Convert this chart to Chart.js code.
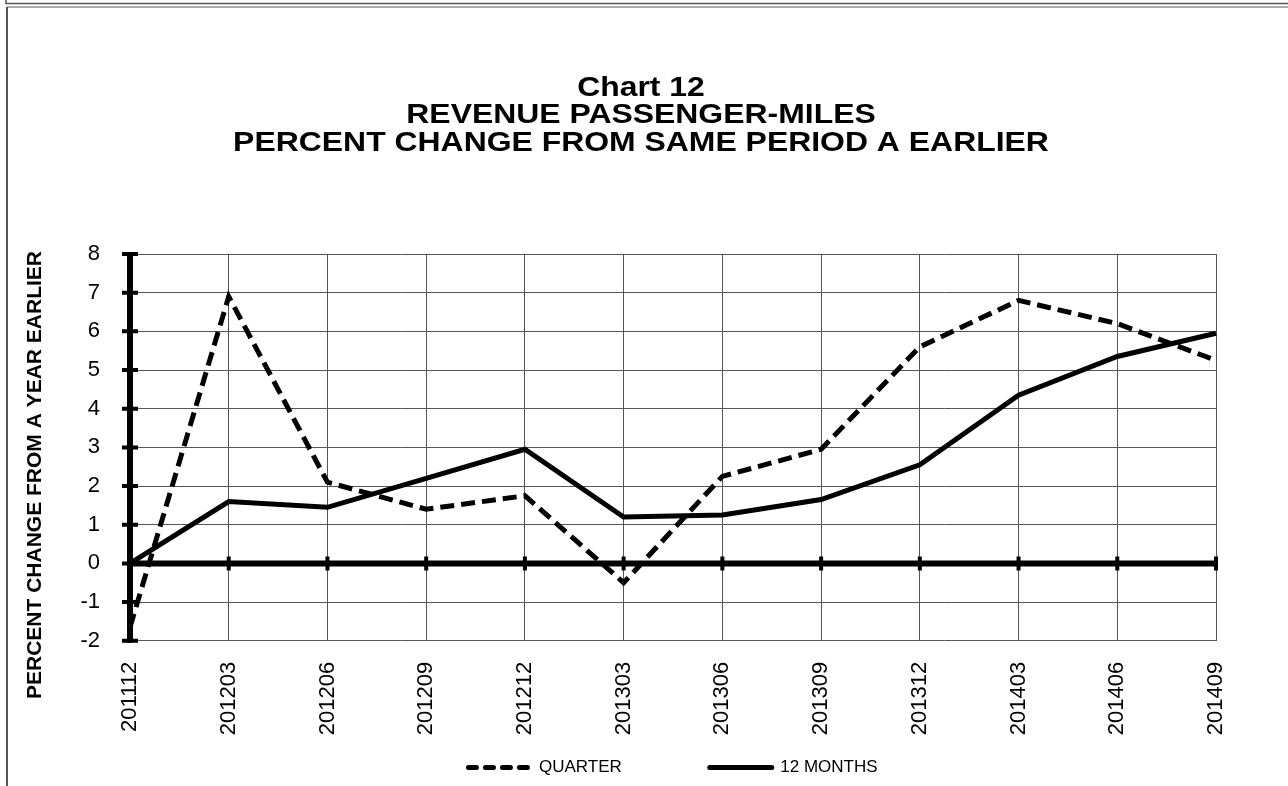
<!DOCTYPE html>
<html>
<head>
<meta charset="utf-8">
<script src="https://cdn.jsdelivr.net/npm/chart.js@4.4.0/dist/chart.umd.min.js"></script>
<style>
  html, body { margin: 0; padding: 0; background: #fff; }
  #wrap { width: 1288px; height: 786px; }
</style>
</head>
<body>
<div id="wrap"><canvas id="chart12"></canvas></div>
<script>
// quarter ending (YYYYMM)
const periods = ['201112', '201203', '201206', '201209', '201212', '201303',
                 '201306', '201309', '201312', '201403', '201406', '201409'];
// percent change from same period a year earlier
const quarterChange = [-1.65, 6.9, 2.1, 1.4, 1.75, -0.5, 2.25, 2.95, 5.6, 6.8, 6.2, 5.25];
const twelveMonthChange = [0.0, 1.6, 1.45, 2.2, 2.95, 1.2, 1.25, 1.65, 2.55, 4.35, 5.35, 5.95];
const yMin = -2, yMax = 8, yStep = 1;

const titleLines = ['Chart 12', 'REVENUE PASSENGER-MILES', 'PERCENT CHANGE FROM SAME PERIOD A EARLIER'];
const yAxisTitle = 'PERCENT CHANGE FROM A YEAR EARLIER';
const FONT = "'Liberation Sans', Arial, Helvetica, sans-serif";

// page frame (the sheet border of the original)
const sheetFrame = {
    id: 'sheetFrame',
    beforeDraw(chart) {
        const ctx = chart.ctx;
        ctx.save();
        ctx.fillStyle = '#fff';
        ctx.fillRect(0, 0, chart.width, chart.height);
        ctx.strokeStyle = '#555';
        ctx.lineWidth = 1.5;
        ctx.beginPath();
        ctx.moveTo(6, 0); ctx.lineTo(6, 3.5); ctx.lineTo(chart.width, 3.5);
        ctx.stroke();
        ctx.strokeStyle = '#aaa';
        ctx.lineWidth = 2;
        ctx.beginPath();
        ctx.moveTo(7, 7); ctx.lineTo(chart.width, 7);
        ctx.stroke();
        ctx.strokeStyle = '#555';
        ctx.beginPath();
        ctx.moveTo(7, 7); ctx.lineTo(7, chart.height);
        ctx.stroke();
        ctx.restore();
    }
};

// the original title is a wide bold face: draw it a little stretched
const wideTitle = {
    id: 'wideTitle',
    afterDraw(chart) {
        const ctx = chart.ctx;
        ctx.save();
        ctx.fillStyle = '#000';
        ctx.font = 'bold 28px ' + FONT;
        ctx.textAlign = 'center';
        ctx.textBaseline = 'middle';
        ctx.translate(chart.width / 2 - 3, 0);
        ctx.scale(1.14, 1);
        titleLines.forEach((line, i) => ctx.fillText(line, 0, 88 + i * 27.6));
        ctx.restore();
    }
};

// heavy value axis + zero line with crossing ticks, and the y title
const heavyAxes = {
    id: 'heavyAxes',
    beforeDatasetsDraw(chart) {
        const { ctx, chartArea: a, scales: { x, y } } = chart;
        const y0 = y.getPixelForValue(0);
        ctx.save();
        ctx.strokeStyle = '#000';
        ctx.lineWidth = 6;
        ctx.beginPath();
        ctx.moveTo(a.left, a.top - 2); ctx.lineTo(a.left, a.bottom + 2);
        ctx.moveTo(a.left, y0); ctx.lineTo(a.right, y0);
        ctx.stroke();
        ctx.lineWidth = 4;
        ctx.beginPath();
        y.ticks.forEach(t => {
            const py = y.getPixelForValue(t.value);
            ctx.moveTo(a.left - 8, py); ctx.lineTo(a.left + 8, py);
        });
        x.ticks.forEach((t, i) => {
            const px = x.getPixelForTick(i);
            ctx.moveTo(px, y0 - 7); ctx.lineTo(px, y0 + 7);
        });
        ctx.stroke();

        ctx.translate(35.5, 475);
        ctx.rotate(-Math.PI / 2);
        ctx.fillStyle = '#000';
        ctx.font = 'bold 21px ' + FONT;
        ctx.textAlign = 'center';
        ctx.textBaseline = 'middle';
        ctx.fillText(yAxisTitle, 0, 0);
        ctx.restore();
    }
};

const ctx = document.getElementById('chart12');
new Chart(ctx, {
    type: 'line',
    data: {
        labels: periods,
        datasets: [{
            label: 'QUARTER',
            data: quarterChange,
            borderColor: '#000',
            backgroundColor: '#000',
            borderWidth: 5,
            borderDash: [14, 7],
            pointRadius: 0,
            tension: 0,
            fill: false
        }, {
            label: '12 MONTHS',
            data: twelveMonthChange,
            borderColor: '#000',
            backgroundColor: '#000',
            borderWidth: 5,
            pointRadius: 0,
            tension: 0,
            fill: false
        }]
    },
    options: {
        responsive: true,
        maintainAspectRatio: false,
        animation: false,
        layout: { padding: { top: 254, left: 0, right: 0, bottom: 0 } },
        plugins: {
            title: { display: false },
            legend: {
                position: 'bottom',
                fullSize: false,
                labels: {
                    usePointStyle: true,
                    pointStyle: 'line',
                    pointStyleWidth: 62,
                    color: '#000',
                    font: { family: FONT, size: 17 },
                    padding: 8.75,
                    generateLabels(chart) {
                        const items = Chart.defaults.plugins.legend.labels.generateLabels(chart);
                        items[0].lineDash = [8, 9];
                        items[0].lineCap = 'round';
                        items[1].lineCap = 'round';
                        // empty slot keeps the two entries apart as in the original
                        items.splice(1, 0, {
                            text: '', fillStyle: 'rgba(0,0,0,0)', strokeStyle: 'rgba(0,0,0,0)',
                            lineWidth: 0, pointStyle: 'line', hidden: false
                        });
                        return items;
                    }
                }
            },
            tooltip: { enabled: false }
        },
        scales: {
            x: {
                offset: false,
                border: { display: false },
                grid: { color: '#555', lineWidth: 1, drawTicks: false },
                ticks: {
                    color: '#000',
                    font: { family: FONT, size: 22 },
                    minRotation: 90,
                    maxRotation: 90,
                    padding: 21,
                    autoSkip: false
                },
                afterFit(scale) { scale.height = 109.5; }
            },
            y: {
                min: yMin,
                max: yMax,
                border: { display: false },
                grid: { color: '#555', lineWidth: 1, drawTicks: false },
                ticks: {
                    stepSize: yStep,
                    color: '#000',
                    font: { family: FONT, size: 22 },
                    padding: 30
                },
                afterFit(scale) { scale.width = 130; }
            },
            // empty right margin, keeps the plot where the original has it
            yRight: {
                position: 'right',
                border: { display: false },
                grid: { display: false },
                ticks: { display: false },
                afterFit(scale) { scale.width = 72; }
            }
        }
    },
    plugins: [sheetFrame, heavyAxes, wideTitle]
});
</script>
</body>
</html>
